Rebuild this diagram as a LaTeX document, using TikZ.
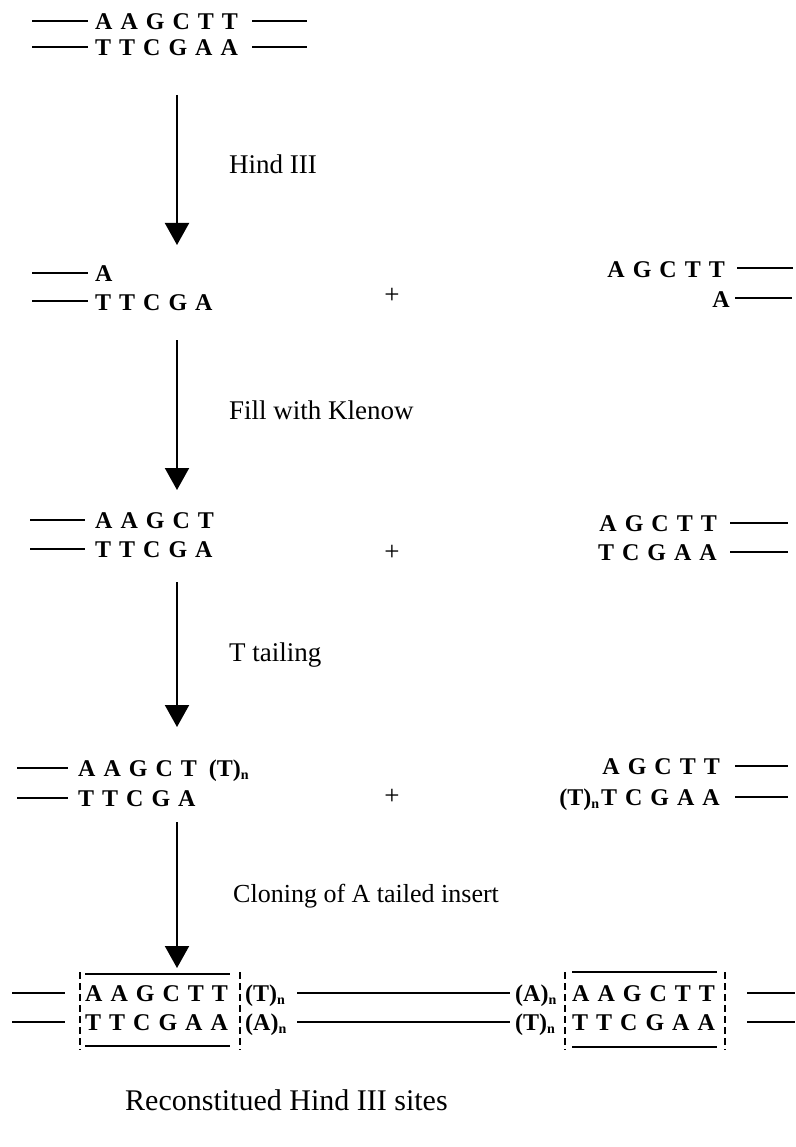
\documentclass[tikz,border=0pt]{standalone}
\usepackage{fontspec}
\setmainfont{Liberation Serif}
\usetikzlibrary{arrows.meta}
\newcommand{\nsub}{\raisebox{-3pt}{\fontsize{14}{14}\selectfont n}}
\newcommand{\seqfont}{\fontsize{24}{24}\selectfont\bfseries\spaceskip=8pt plus 0pt minus 0pt\relax}
\tikzset{
 seq/.style={inner sep=0pt, font=\seqfont},
 lbl/.style={inner sep=0pt, anchor=base west, font=\fontsize{27}{27}\selectfont},
 strand/.style={line width=1.4pt},
 flow/.style={line width=2pt, -{Triangle[width=24pt,length=22pt]}},
 site/.style={line width=1.3pt, dash pattern=on 7pt off 4pt},
 rule/.style={line width=1.8pt},
}
\begin{document}
\begin{tikzpicture}[x=1pt,y=-1pt]
\fill[white] (0,0) rectangle (795,1147);
\useasboundingbox (0,0) rectangle (795,1147);

% Row 1
\node[seq, anchor=base west] (r1a) at (95,30) {A A G C T T};
\node[seq, anchor=base west] (r1b) at (95,56) {T T C G A A};
\draw[strand] (32,21) -- (88,21);
\draw[strand] (252,21) -- (307,21);
\draw[strand] (32,47) -- (88,47);
\draw[strand] (252,47) -- (307,47);

% Arrow 1
\coordinate (a1s) at (177,95);
\coordinate (a1e) at (177,245);
\draw[flow] (a1s) -- (a1e);
\node[lbl] (l1) at (229,174) {Hind III};

% Row 2
\node[seq, anchor=base west] (r2a) at (95,282) {A};
\node[seq, anchor=base west] (r2b) at (95,310) {T T C G A};
\draw[strand] (32,273) -- (88,273);
\draw[strand] (32,301) -- (88,301);
\node[lbl, anchor=center] (p1) at (392,296) {+};
\node[seq, anchor=base east] (r2c) at (725,277) {A G C T T};
\node[seq, anchor=base east] (r2d) at (730,307) {A};
\draw[strand] (737,268) -- (793,268);
\draw[strand] (735,298) -- (792,298);

% Arrow 2
\coordinate (a2s) at (177,340);
\coordinate (a2e) at (177,490);
\draw[flow] (a2s) -- (a2e);
\node[lbl] (l2) at (229,419) {Fill with Klenow};

% Row 3
\node[seq, anchor=base west] (r3a) at (95,528) {A A G C T};
\node[seq, anchor=base west] (r3b) at (95,557) {T T C G A};
\draw[strand] (30,520) -- (85,520);
\draw[strand] (30,549) -- (85,549);
\node[lbl, anchor=center] (p2) at (392,553) {+};
\node[seq, anchor=base east] (r3c) at (717,531) {A G C T T};
\node[seq, anchor=base east] (r3d) at (717,560) {T C G A A};
\draw[strand] (730,523) -- (788,523);
\draw[strand] (730,552) -- (788,552);

% Arrow 3
\coordinate (a3s) at (177,582);
\coordinate (a3e) at (177,727);
\draw[flow] (a3s) -- (a3e);
\node[lbl] (l3) at (229,661) {T tailing};

% Row 4
\node[seq, anchor=base west] (r4a) at (78,776) {A A G C T\hspace{12pt}(T)\nsub};
\node[seq, anchor=base west] (r4b) at (78,806) {T T C G A};
\draw[strand] (17,768) -- (68,768);
\draw[strand] (17,798) -- (68,798);
\node[lbl, anchor=center] (p3) at (392,797) {+};
\node[seq, anchor=base east] (r4c) at (720,774) {A G C T T};
\node[seq, anchor=base east] (r4d) at (720,805) {(T)\nsub\hspace{2pt}T C G A A};
\draw[strand] (735,766) -- (788,766);
\draw[strand] (735,797) -- (788,797);

% Arrow 4
\coordinate (a4s) at (177,822);
\coordinate (a4e) at (177,968);
\draw[flow] (a4s) -- (a4e);
\node[lbl, font=\fontsize{26}{26}\selectfont] (l4) at (233,902) {Cloning of A tailed insert};

% Bottom row
\draw[strand] (12,993) -- (65,993);
\draw[strand] (12,1022) -- (65,1022);
\draw[site] (80,972) -- (80,1050);
\draw[site] (240,972) -- (240,1050);
\draw[rule] (85,974) -- (230,974);
\draw[rule] (85,1046) -- (230,1046);
\node[seq, anchor=base west] (s1a) at (85,1001) {A A G C T T};
\node[seq, anchor=base west] (s1b) at (85,1030) {T T C G A A};
\node[seq, anchor=base west] (t1a) at (245,1001) {(T)\nsub};
\node[seq, anchor=base west] (t1b) at (245,1030) {(A)\nsub};
\draw[strand] (297,993) -- (510,993);
\draw[strand] (297,1022) -- (510,1022);
\node[seq, anchor=base west] (t2a) at (515,1001) {(A)\nsub};
\node[seq, anchor=base west] (t2b) at (515,1030) {(T)\nsub};
\draw[site] (565,972) -- (565,1050);
\draw[site] (725,972) -- (725,1050);
\draw[rule] (572,972) -- (717,972);
\draw[rule] (572,1047) -- (717,1047);
\node[seq, anchor=base west] (s2a) at (572,1001) {A A G C T T};
\node[seq, anchor=base west] (s2b) at (572,1030) {T T C G A A};
\draw[strand] (747,993) -- (795,993);
\draw[strand] (747,1022) -- (795,1022);

\node[lbl, font=\fontsize{30}{30}\selectfont] (cap) at (125,1110) {Reconstitued Hind III sites};
\end{tikzpicture}
\end{document}
